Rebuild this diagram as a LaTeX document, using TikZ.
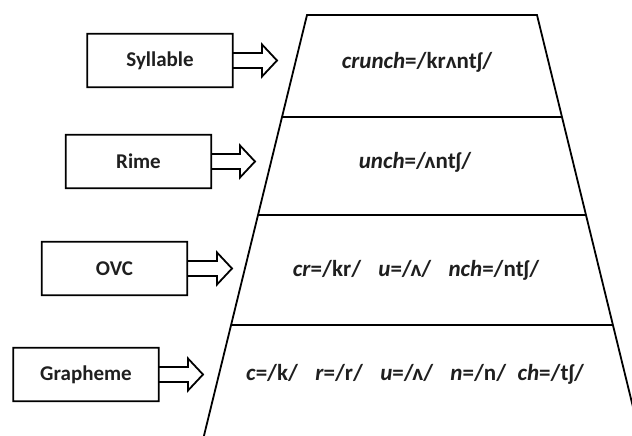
\documentclass[tikz,border=0pt]{standalone}
\usepackage{fontspec}
\setmainfont{Carlito}
\begin{document}
\begin{tikzpicture}[x=1pt,y=-1pt,
  lbl/.style={font=\bfseries\fontsize{21}{24}\selectfont, text=black!88},
  ipa/.style={font=\bfseries\fontsize{23}{26}\selectfont, text=black!88},
  outl/.style={line width=1.8pt, line join=miter},
  box/.style={minimum width=145pt, minimum height=53pt, inner sep=0pt}]
\useasboundingbox (0,0) rectangle (632,436);
\clip (0,0) rectangle (632,436);
% pyramid
\draw[outl] (203.9,436) -- (307,15) -- (537,15) -- (640.1,436);
\draw[outl] (282.0,117) -- (562.0,117);
\draw[outl] (258.0,215) -- (586.0,215);
\draw[outl] (231.05,325) -- (612.95,325);
% texts in pyramid
\node[ipa] (t1) at (417,62) {\textit{crunch}=/krʌntʃ/};
\node[ipa] (t2) at (415,162) {\textit{unch}=/ʌntʃ/};
\node[ipa] (t3) at (416,270) {\textit{cr}=/kr/\hspace{0.75em}\textit{u}=/ʌ/\hspace{0.75em}\textit{nch}=/ntʃ/};
\node[ipa] (t4) at (415,374) {\textit{c}=/k/\hspace{0.75em}\textit{r}=/r/\hspace{0.75em}\textit{u}=/ʌ/\hspace{0.75em}\textit{n}=/n/\hspace{0.5em}\textit{ch}=/tʃ/};
% labels with block arrows
\newcommand\blockarrow[3]{% node, head base x, tip x
  \draw[outl] (#1.north west) -- (#1.north east) -- ([yshift=-7.5pt]#1.east)
    -- ([yshift=-7.5pt]#1.east -| #2,0) -- ([yshift=-16pt]#1.east -| #2,0)
    -- (#1.east -| #3,0) -- ([yshift=16pt]#1.east -| #2,0)
    -- ([yshift=7.5pt]#1.east -| #2,0) -- ([yshift=7.5pt]#1.east)
    -- (#1.south east) -- (#1.south west) -- cycle;}
\node[box,lbl] (syl) at (160,60.5) {Syllable};
\node[box,lbl] (rime) at (138.5,161.5) {Rime};
\node[box,lbl] (ovc) at (114.5,268.5) {OVC};
\node[box,lbl] (gra) at (86,374.5) {Grapheme};
\blockarrow{syl}{262}{277}
\blockarrow{rime}{240}{255}
\blockarrow{ovc}{217}{232}
\blockarrow{gra}{188}{203}
\end{tikzpicture}
\end{document}
